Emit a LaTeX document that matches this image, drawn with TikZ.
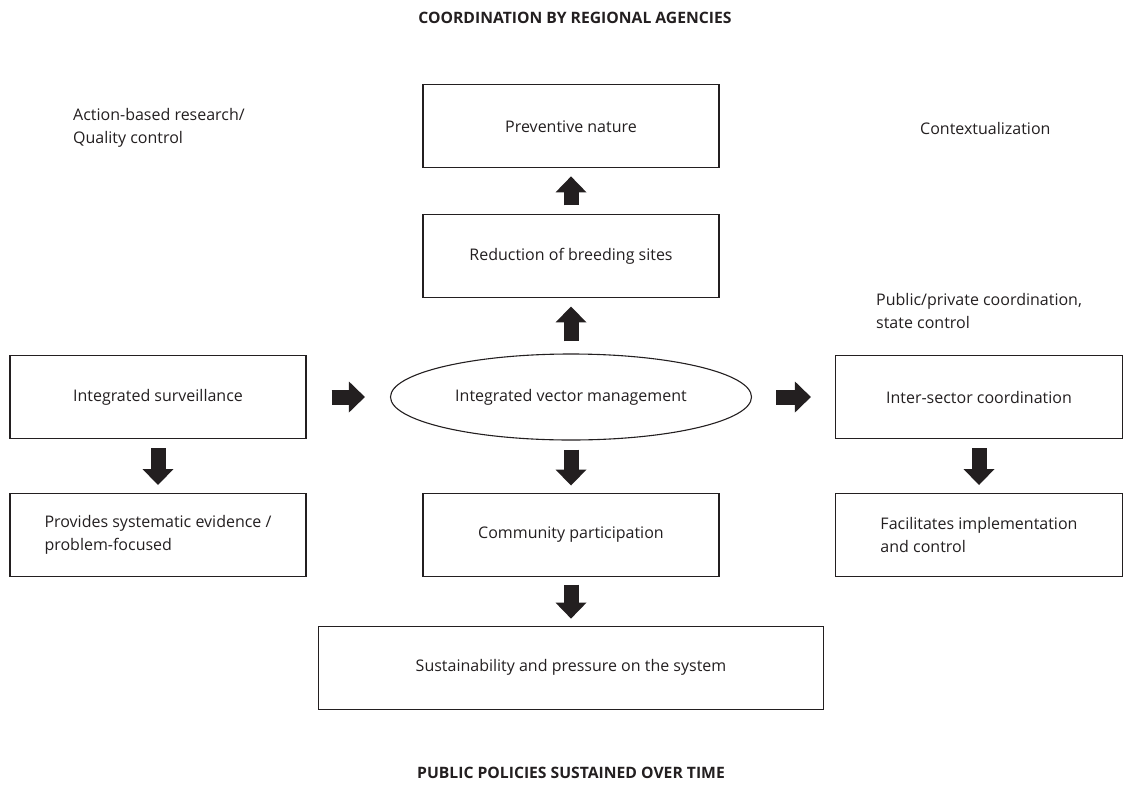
\documentclass[tikz,border=0pt]{standalone}
\usepackage{fontspec}
\setmainfont{Open Sans}
\usetikzlibrary{positioning}
\usetikzlibrary{arrows.meta}
\usetikzlibrary{shapes.geometric}
\definecolor{ink}{HTML}{231F20}

\begin{document}
\begin{tikzpicture}[x=1pt,y=-1pt,font=\fontsize{16}{23}\selectfont,
    box/.style={draw=ink,line width=1.1pt,minimum width=296pt,minimum height=83pt,align=left,text=ink},
    oval/.style={ellipse,draw=ink,line width=1.1pt,minimum width=361pt,minimum height=86pt,text=ink},
    note/.style={align=left,text=ink,anchor=west,inner sep=0pt},
    heading/.style={font=\fontsize{15.7}{18}\selectfont\bfseries,text=ink},
    fat/.style={draw=ink,line width=15pt,-{Triangle[length=16pt,width=30pt]},shorten <=9pt,shorten >=8pt}]
   \useasboundingbox (0,0) rectangle (1123,784);
   \node[heading] (coord) at (575,18) {COORDINATION BY REGIONAL AGENCIES};
   \node[heading] (policy) at (571,773) {PUBLIC POLICIES SUSTAINED OVER TIME};
   % middle column
   \node[oval] (ivm) at (571,397) {Integrated vector management};
   \node[box] (reduce) [above=55pt of ivm] {Reduction of breeding sites};
   \node[box] (prevent) [above=46pt of reduce] {Preventive nature};
   \node[box] (comm) [below=52pt of ivm] {Community participation};
   \node[box,minimum width=505pt] (sust) [below=49pt of comm] {Sustainability and pressure on the system};
   % left column
   \node[box] (surv) at (158,397) {Integrated surveillance};
   \node[box] (evid) [below=54pt of surv] {Provides systematic evidence /\\problem-focused};
   % right column
   \node[box,minimum width=287pt] (inter) at (979,397) {Inter-sector coordination};
   \node[box,minimum width=287pt] (facil) [below=54pt of inter] {Facilitates implementation\\and control};
   % notes
   \node[note] (research) at (73,128) {Action-based research/\\Quality control};
   \node[note] (context) at (920,128) {Contextualization};
   \node[note] (pubpriv) at (876,311) {Public/private coordination,\\state control};
   % block arrows
   \draw[fat] (reduce) -- (prevent);
   \draw[fat,shorten <=12pt] (ivm) -- (reduce);
   \draw[fat,shorten <=25pt,shorten >=25pt] (surv) -- (ivm);
   \draw[fat,shorten <=24pt,shorten >=24pt] (ivm) -- (inter);
   \draw[fat] (surv) -- (evid);
   \draw[fat,shorten >=7pt] (ivm) -- (comm);
   \draw[fat] (inter) -- (facil);
   \draw[fat,shorten <=8pt,shorten >=7pt] (comm) -- (sust);
\end{tikzpicture}
\end{document}
